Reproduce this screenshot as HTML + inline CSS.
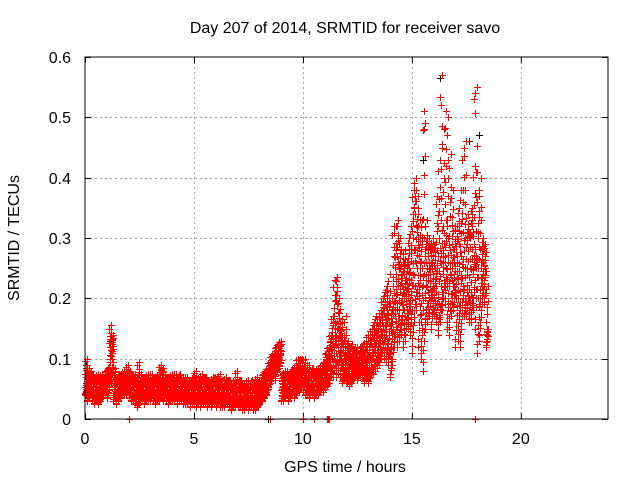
<!DOCTYPE html>
<html><head><meta charset="utf-8"><style>
body{margin:0;background:#fff;}
svg text{font-family:"Liberation Sans",sans-serif;font-size:16px;fill:#000;}
</style></head><body>
<svg id="chart" width="640" height="480" xmlns="http://www.w3.org/2000/svg">
<rect width="640" height="480" fill="#fff"/>
<text x="345" y="33" text-anchor="middle">Day 207 of 2014, SRMTID for receiver savo</text>
<text x="345" y="472" text-anchor="middle">GPS time / hours</text>
<text x="19" y="238" text-anchor="middle" transform="rotate(-90 19 238)">SRMTID / TECUs</text>
<g id="grid"></g>
<g id="axes"></g>
<path id="black-marks" fill="none" stroke="#000" stroke-width="1"/>
<path id="red-marks" fill="none" stroke="#f00" stroke-width="1"/>
<rect x="85" y="57" width="523" height="362" fill="none" stroke="#000" stroke-width="1"/>
</svg>
<script>
const xTicks=[0,5,10,15,20];
const yTicks=[0,0.1,0.2,0.3,0.4,0.5,0.6];
const yTickLabels=["0","0.1","0.2","0.3","0.4","0.5","0.6"];
const binStart=0, binStep=0.1;
const seriesLo=[.04,.03,.035,.03,.025,.03,.025,.03,.035,.04,
.035,.05,.06,.03,.025,.03,.035,.04,.04,.04,
.035,.03,.03,.025,.02,.025,.03,.025,.03,.03,
.03,.03,.025,.03,.03,.035,.03,.03,.025,.03,
.03,.03,.025,.03,.03,.025,.025,.025,.02,.025,
.025,.02,.025,.02,.025,.025,.02,.025,.02,.025,
.02,.025,.02,.02,.02,.025,.02,.015,.02,.02,
.02,.02,.015,.015,.02,.015,.02,.015,.015,.02,
.025,.03,.035,.04,.05,.06,.07,.065,.08,.085,
.03,.03,.035,.03,.035,.04,.035,.04,.045,.05,
.045,.04,.04,.035,.04,.035,.04,.04,.045,.045,
.05,.055,.06,.07,.07,.07,.075,.07,.06,.065,
.06,.055,.06,.065,.07,.065,.07,.07,.06,.065,
.06,.07,.075,.08,.085,.09,.1,.1,.095,.09,
.07,.09,.12,.12,.13,.14,.12,.13,.15,.14,
.11,.16,.18,.12,.1,.08,.15,.16,.17,.15,
.17,.16,.14,.16,.18,.19,.15,.14,.17,.18,
.12,.13,.12,.18,.17,.17,.16,.16,.18,.15,
.11,.13,.19,.19,.12];
const seriesMidLo=[.05,.045,.05,.045,.04,.05,.045,.05,.05,.055,
.05,.08,.1,.05,.04,.045,.05,.055,.055,.055,
.05,.045,.045,.04,.04,.04,.045,.04,.045,.045,
.045,.045,.04,.045,.05,.05,.045,.045,.04,.045,
.045,.045,.04,.045,.045,.04,.04,.04,.035,.04,
.04,.035,.04,.035,.04,.04,.035,.04,.035,.04,
.035,.04,.035,.035,.035,.04,.035,.03,.035,.035,
.03,.035,.03,.03,.035,.03,.035,.03,.03,.03,
.04,.045,.05,.055,.065,.075,.085,.085,.095,.1,
.045,.045,.05,.045,.05,.055,.05,.06,.06,.065,
.06,.055,.055,.05,.055,.05,.055,.055,.06,.06,
.07,.075,.09,.1,.1,.11,.12,.1,.08,.085,
.08,.075,.08,.085,.085,.08,.085,.085,.08,.085,
.085,.09,.1,.11,.11,.12,.13,.13,.14,.12,
.1,.15,.17,.18,.17,.19,.18,.19,.2,.18,
.18,.22,.25,.2,.16,.18,.2,.21,.22,.2,
.2,.21,.19,.22,.24,.26,.22,.22,.23,.22,
.2,.2,.18,.22,.2,.21,.2,.21,.24,.25,
.2,.19,.22,.22,.14];
const seriesMidHi=[.07,.06,.065,.06,.055,.065,.06,.065,.06,.065,
.065,.12,.125,.07,.055,.06,.065,.07,.065,.07,
.065,.06,.06,.055,.06,.06,.06,.055,.06,.06,
.06,.06,.055,.06,.065,.07,.06,.06,.055,.06,
.06,.06,.055,.06,.06,.055,.055,.055,.05,.055,
.055,.05,.055,.05,.055,.055,.05,.055,.05,.055,
.05,.055,.05,.05,.05,.055,.05,.045,.05,.05,
.045,.05,.045,.045,.05,.045,.05,.045,.045,.045,
.055,.06,.065,.07,.08,.09,.1,.1,.105,.115,
.06,.06,.065,.06,.065,.07,.07,.08,.08,.08,
.08,.07,.07,.065,.07,.065,.07,.07,.075,.075,
.09,.1,.12,.14,.16,.19,.15,.13,.11,.11,
.1,.1,.1,.105,.1,.095,.1,.1,.1,.11,
.11,.12,.13,.14,.14,.15,.16,.17,.18,.16,
.15,.22,.24,.26,.25,.22,.24,.23,.25,.23,
.3,.34,.31,.26,.25,.3,.26,.27,.28,.24,
.25,.28,.3,.33,.32,.33,.3,.28,.29,.26,
.27,.29,.27,.31,.3,.29,.3,.32,.29,.27,
.3,.26,.26,.25,.15];
const seriesHi=[.1,.085,.08,.075,.07,.075,.07,.075,.07,.08,
.085,.155,.14,.085,.07,.075,.075,.08,.08,.09,
.08,.075,.075,.07,.095,.075,.07,.07,.075,.075,
.075,.07,.07,.075,.09,.085,.075,.07,.07,.075,
.075,.075,.07,.075,.07,.07,.07,.065,.065,.07,
.08,.065,.07,.075,.07,.07,.065,.065,.07,.07,
.07,.075,.065,.065,.07,.065,.065,.06,.065,.08,
.065,.065,.06,.06,.065,.06,.065,.06,.07,.065,
.065,.075,.08,.085,.095,.105,.11,.12,.125,.13,
.075,.08,.08,.075,.08,.085,.09,.1,.1,.1,
.1,.09,.09,.08,.085,.08,.085,.085,.09,.095,
.11,.12,.14,.17,.23,.235,.2,.165,.14,.17,
.13,.12,.125,.115,.12,.11,.12,.125,.13,.14,
.14,.15,.16,.17,.17,.18,.2,.21,.22,.24,
.2,.32,.32,.33,.3,.26,.28,.26,.3,.32,
.38,.4,.37,.33,.33,.51,.33,.3,.29,.3,
.29,.37,.43,.57,.48,.51,.5,.44,.38,.32,
.32,.35,.38,.45,.46,.34,.31,.35,.42,.55,
.37,.4,.3,.29,.22];
const extraT=[15.55,15.6,16.35,16.6,17.85,17.9,18.0,18.2];
const extraV=[.48,.49,.52,.47,.53,.54,.41,.26];
const blackT=[0.05,1.15,8.4,15.5,16.3,17.6,18.1];
const blackV=[.09,.13,0,.43,.565,.46,.47];
const zeroT=[2,8.5,10,10.5,11.1,11.15,11.2,17.9];

const X0=85,X1=608,Y0=419,Y1=57;
const xs=v=>X0+(v/24)*(X1-X0);
const ys=v=>Y0-(v/0.6)*(Y0-Y1);
const NS="http://www.w3.org/2000/svg";
const grid=document.getElementById('grid'),axes=document.getElementById('axes');
function line(p,x1,y1,x2,y2,st,dash,name){const l=document.createElementNS(NS,'line');
l.setAttribute('x1',x1);l.setAttribute('y1',y1);l.setAttribute('x2',x2);l.setAttribute('y2',y2);
l.setAttribute('stroke',st);if(dash)l.setAttribute('stroke-dasharray',dash);


p.appendChild(l);}
function txt(x,y,s,anchor,name){const t=document.createElementNS(NS,'text');t.setAttribute('x',x);t.setAttribute('y',y);t.setAttribute('text-anchor',anchor);t.textContent=s;


axes.appendChild(t);}
xTicks.forEach(v=>{const x=xs(v)+0.5;
 if(v>0)line(grid,x,Y0,x,Y1,'#a0a0a0','2,3','x-gridline');
 line(axes,x,Y0,x,Y0-6,'#000',null,'x-tick');line(axes,x,Y1,x,Y1+6,'#000',null,'x-tick');
 txt(xs(v),444,String(v),'middle','x-tick-label');});
yTicks.forEach((v,i)=>{const y=Math.round(ys(v))+0.5;
 if(v>0&&v<0.6)line(grid,X0,y,X1,y,'#a0a0a0','2,3','y-gridline');
 line(axes,X0,y,X0+6,y,'#000',null,'y-tick');line(axes,X1,y,X1-6,y,'#000',null,'y-tick');
 txt(71,Math.round(ys(v))+6,yTickLabels[i],'end','y-tick-label');});
function plus(x,y){x=Math.round(x)+0.5;y=Math.round(y)+0.5;return `M${x-3.5} ${y}H${x+3.5}M${x} ${y-3.5}V${y+3.5}`;}
let b='';blackT.forEach((t,i)=>{b+=plus(xs(t),ys(blackV[i]));});
document.getElementById('black-marks').setAttribute('d',b);
let r='';
const fr=[0.15,0.35,0.5,0.65,0.85];
seriesLo.forEach((lo,i)=>{
 const pts=[lo,seriesMidLo[i],seriesMidHi[i],seriesHi[i]];
 const t0=binStart+i*binStep;
 pts.forEach((v,k)=>{r+=plus(xs(t0+k*0.025),ys(v));});
 for(let k=0;k<3;k++){fr.forEach((f,j)=>{const v=pts[k]+(pts[k+1]-pts[k])*f;r+=plus(xs(t0+((j*2+k)%10)*0.01),ys(v));});}
});
extraT.forEach((t,i)=>{r+=plus(xs(t),ys(extraV[i]));});
zeroT.forEach(t=>{r+=plus(xs(t),ys(0));});
document.getElementById('red-marks').setAttribute('d',r);
</script>
</body></html>
